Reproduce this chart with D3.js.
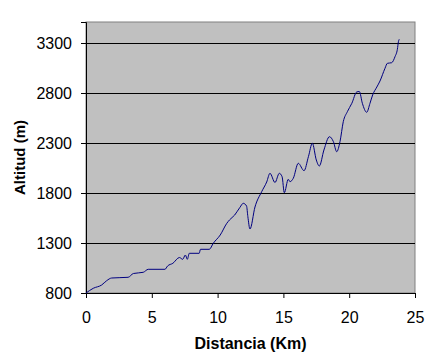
<!DOCTYPE html>
<html>
<head>
<meta charset="utf-8">
<script src="https://cdn.jsdelivr.net/npm/d3@7"></script>
<style>
  body { margin: 0; background: #fff; }
  svg text { font-family: Arial, "Liberation Sans", sans-serif; }
</style>
</head>
<body>
<svg id="chart"></svg>
<script>
// ----------------------------------------
//  Data
// ----------------------------------------
var distancias = [0, 0.55, 1.19, 1.57, 1.95, 3.2, 3.6, 4.35, 4.73, 6.0, 6.2, 6.6, 7.1, 7.35, 7.55, 7.7, 7.85,
  8.6, 8.7, 9.37, 9.67, 10.2, 10.7, 10.9, 11.3, 11.7, 11.95, 12.2, 12.3, 12.46, 12.84, 13.35, 13.73, 13.98,
  14.36, 14.69, 14.9, 15.07, 15.37, 15.5, 15.75, 16.13, 16.57, 16.9, 17.2, 17.5, 17.73, 18.08, 18.5, 18.8,
  19.05, 19.3, 19.55, 19.86, 20.2, 20.57, 20.77, 21.0, 21.33, 21.58, 21.78, 22.1, 22.34, 22.72, 22.9, 23.23,
  23.48, 23.66, 23.74, 23.8];
var altitudes = [800, 847, 880, 923, 950, 957, 995, 1007, 1037, 1037, 1070, 1097, 1155, 1137, 1180, 1137, 1197,
  1197, 1237, 1237, 1297, 1380, 1497, 1530, 1580, 1657, 1697, 1670, 1563, 1440, 1660, 1813, 1910, 1997,
  1905, 1997, 1963, 1803, 1937, 1913, 1947, 2097, 2023, 2163, 2297, 2130, 2070, 2230, 2363, 2313,
  2213, 2313, 2513, 2613, 2697, 2810, 2815, 2697, 2607, 2697, 2780, 2860, 2920, 3047, 3097, 3103,
  3163, 3237, 3313, 3337];

var xTicks = [0, 5, 10, 15, 20, 25];
var yTicks = [800, 1300, 1800, 2300, 2800, 3300];

// ----------------------------------------
// Sizing the Chart
// ----------------------------------------
var width = 429, height = 357;
var margin = {left: 86, right: 14, top: 22, bottom: 64};
var w = width - margin.left - margin.right,
    h = height - margin.top - margin.bottom;

var svg = d3.select('#chart').attr('width', width).attr('height', height);
var g = svg.append('g').attr('transform', 'translate(' + margin.left + ',' + margin.top + ')');

var x = d3.scaleLinear().domain([0, 25]).range([0, w]);
var y = d3.scaleLinear().domain([800, 3510]).range([h, 0]);

// plot area
g.append('rect').attr('width', w).attr('height', h)
  .attr('fill', '#c0c0c0').attr('stroke', '#808080').attr('stroke-width', 1);

// gridlines
g.selectAll('.grid').data(yTicks.slice(1)).enter().append('line')
  .attr('x1', 0).attr('x2', w)
  .attr('y1', function(d) { return Math.round(y(d)) + 0.5; })
  .attr('y2', function(d) { return Math.round(y(d)) + 0.5; })
  .attr('stroke', '#000').attr('stroke-width', 1);

// axes
var xAxis = g.append('g').attr('transform', 'translate(0,' + h + ')')
  .call(d3.axisBottom(x).tickValues(xTicks).tickSize(5).tickPadding(14).tickFormat(d3.format('d')));
var yAxis = g.append('g')
  .call(d3.axisLeft(y).tickValues(yTicks).tickSize(5).tickPadding(9).tickFormat(d3.format('d')));

[xAxis, yAxis].forEach(function(a) {
  a.select('.domain').attr('stroke', '#000');
  a.selectAll('line').attr('stroke', '#000');
  a.selectAll('text').attr('font-size', 16).attr('fill', '#000')
    .style('font-family', 'Arial, "Liberation Sans", sans-serif');
});

// profile line
var line = d3.line()
  .x(function(d, i) { return x(distancias[i]); })
  .y(function(d) { return y(d); })
  .curve(d3.curveMonotoneX);

g.append('path').datum(altitudes)
  .attr('d', line)
  .attr('fill', 'none')
  .attr('stroke', '#000080')
  .attr('stroke-width', 1);

// axis titles
svg.append('text')
  .attr('x', margin.left + w / 2).attr('y', 349)
  .attr('text-anchor', 'middle').attr('font-size', 16).attr('font-weight', 'bold')
  .text('Distancia (Km)');

svg.append('text')
  .attr('transform', 'translate(25,' + (margin.top + h / 2) + ') rotate(-90)')
  .attr('text-anchor', 'middle').attr('font-size', 15).attr('font-weight', 'bold')
  .text('Altitud (m)');
</script>
</body>
</html>
